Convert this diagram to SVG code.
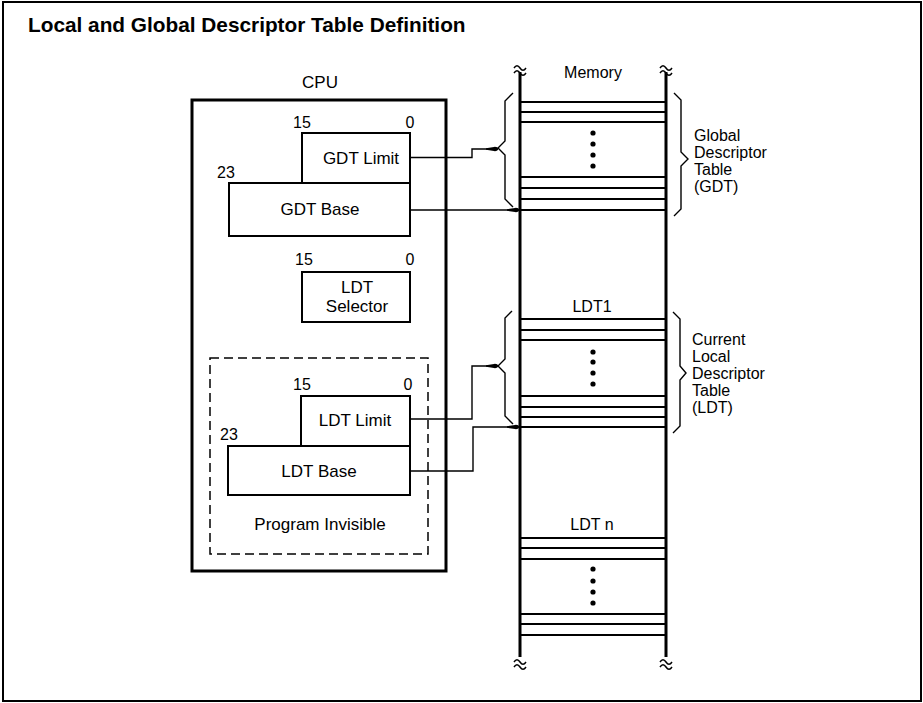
<svg xmlns="http://www.w3.org/2000/svg" width="923" height="703" viewBox="0 0 923 703">
<style>
  text { font-family: "Liberation Sans", Arial, sans-serif; fill: #000; }
  .title { font-size: 20.8px; font-weight: bold; }
  .lbl { font-size: 17px; }
  .num { font-size: 16px; }
  .mem { font-size: 16px; }
  .mid { text-anchor: middle; }
  .reg { fill: #fff; stroke: #000; stroke-width: 2; }
  .row { stroke: #000; stroke-width: 2; }
  .wire { fill: none; stroke: #000; stroke-width: 1.4; }
  .brace { fill: none; stroke: #000; stroke-width: 1.4; stroke-linejoin: miter; }
  .squig { fill: none; stroke: #000; stroke-width: 1.5; }
</style>
<defs>
  <marker id="ah" markerUnits="userSpaceOnUse" markerWidth="13" markerHeight="6" refX="12" refY="3" orient="auto" viewBox="0 0 13 6">
    <path d="M0,2.2 L8,0.9 Q12,0.6 12,3 Q12,5.4 8,5.1 L0,3.8 Z" fill="#000"/>
  </marker>
</defs>
<rect x="3" y="2" width="918" height="699" fill="#fff" stroke="#000" stroke-width="2"/>
<text class="title" x="28" y="32">Local and Global Descriptor Table Definition</text>

<g id="cpu">
  <text class="lbl mid" x="320" y="88">CPU</text>
  <rect x="192" y="100" width="254" height="471" fill="none" stroke="#000" stroke-width="3"/>
</g>

<g id="gdt-limit">
  <rect class="reg" x="302" y="133" width="108" height="50"/>
  <text class="num" x="293" y="128">15</text>
  <text class="num mid" x="410" y="128">0</text>
  <text class="lbl mid" x="361" y="164">GDT Limit</text>
</g>
<g id="gdt-base">
  <rect class="reg" x="229" y="183" width="181" height="53"/>
  <text class="num" x="217" y="178">23</text>
  <text class="lbl mid" x="320" y="215">GDT Base</text>
</g>
<g id="ldt-selector">
  <rect class="reg" x="302" y="272" width="108" height="50"/>
  <text class="num" x="295" y="265">15</text>
  <text class="num mid" x="410" y="265">0</text>
  <text class="lbl mid" x="357" y="293">LDT</text>
  <text class="lbl mid" x="357" y="312">Selector</text>
</g>
<g id="program-invisible">
  <rect x="210" y="358" width="218" height="196" fill="none" stroke="#000" stroke-width="1.5" stroke-dasharray="9,5"/>
  <text class="lbl mid" x="320" y="530">Program Invisible</text>
</g>
<g id="ldt-limit">
  <rect class="reg" x="301" y="396" width="109" height="50"/>
  <text class="num" x="293" y="390">15</text>
  <text class="num mid" x="408" y="390">0</text>
  <text class="lbl mid" x="355" y="426">LDT Limit</text>
</g>
<g id="ldt-base">
  <rect class="reg" x="228" y="446" width="182" height="49"/>
  <text class="num" x="220" y="440">23</text>
  <text class="lbl mid" x="319" y="477">LDT Base</text>
</g>

<g id="memory">
  <text class="mem mid" x="593" y="78">Memory</text>
  <line x1="520" y1="72" x2="520" y2="657" stroke="#000" stroke-width="3"/>
  <line x1="666" y1="72" x2="666" y2="657" stroke="#000" stroke-width="3"/>
  <path class="squig" d="M514,68 c2,-3 4,-3 6,0 s4,3 6,0 M514,73 c2,-3 4,-3 6,0 s4,3 6,0 M660,68 c2,-3 4,-3 6,0 s4,3 6,0 M660,73 c2,-3 4,-3 6,0 s4,3 6,0"/>
  <path class="squig" d="M514,662 c2,-3 4,-3 6,0 s4,3 6,0 M514,667 c2,-3 4,-3 6,0 s4,3 6,0 M660,662 c2,-3 4,-3 6,0 s4,3 6,0 M660,667 c2,-3 4,-3 6,0 s4,3 6,0"/>
</g>

<g id="gdt-table">
  <g class="row">
    <line x1="520" y1="102" x2="666" y2="102"/>
    <line x1="520" y1="112" x2="666" y2="112"/>
    <line x1="520" y1="122" x2="666" y2="122"/>
    <line x1="520" y1="177" x2="666" y2="177"/>
    <line x1="520" y1="188" x2="666" y2="188"/>
    <line x1="520" y1="199" x2="666" y2="199"/>
    <line x1="520" y1="210" x2="666" y2="210"/>
  </g>
  <circle cx="593" cy="133" r="2.6"/>
  <circle cx="593" cy="144" r="2.6"/>
  <circle cx="593" cy="155" r="2.6"/>
  <circle cx="593" cy="166" r="2.6"/>
  <path class="brace" d="M513,93 L505,101 V141 L498,148 L505,155 V199 L513,207"/>
  <path class="brace" d="M674,93 L681,100 V152 L688,159 L681,166 V209 L674,216"/>
  <text class="mem" x="694" y="141">Global</text>
  <text class="mem" x="694" y="158">Descriptor</text>
  <text class="mem" x="694" y="175">Table</text>
  <text class="mem" x="694" y="192">(GDT)</text>
</g>

<g id="ldt1-table">
  <text class="mem mid" x="592" y="312">LDT1</text>
  <g class="row">
    <line x1="520" y1="319" x2="666" y2="319"/>
    <line x1="520" y1="330" x2="666" y2="330"/>
    <line x1="520" y1="340" x2="666" y2="340"/>
    <line x1="520" y1="396" x2="666" y2="396"/>
    <line x1="520" y1="407" x2="666" y2="407"/>
    <line x1="520" y1="417" x2="666" y2="417"/>
    <line x1="520" y1="427" x2="666" y2="427"/>
  </g>
  <circle cx="593" cy="352" r="2.6"/>
  <circle cx="593" cy="362" r="2.6"/>
  <circle cx="593" cy="373" r="2.6"/>
  <circle cx="593" cy="384" r="2.6"/>
  <path class="brace" d="M512,311 L505,318 V359 L498,366 L505,373 V416 L513,424"/>
  <path class="brace" d="M673,312 L680,319 V366 L686,373 L680,380 V426 L673,433"/>
  <text class="mem" x="692" y="345">Current</text>
  <text class="mem" x="692" y="362">Local</text>
  <text class="mem" x="692" y="379">Descriptor</text>
  <text class="mem" x="692" y="396">Table</text>
  <text class="mem" x="692" y="413">(LDT)</text>
</g>

<g id="ldtn-table">
  <text class="mem mid" x="592" y="530">LDT n</text>
  <g class="row">
    <line x1="520" y1="538" x2="666" y2="538"/>
    <line x1="520" y1="548" x2="666" y2="548"/>
    <line x1="520" y1="559" x2="666" y2="559"/>
    <line x1="520" y1="614" x2="666" y2="614"/>
    <line x1="520" y1="624" x2="666" y2="624"/>
    <line x1="520" y1="635" x2="666" y2="635"/>
  </g>
  <circle cx="593" cy="569" r="2.6"/>
  <circle cx="593" cy="581" r="2.6"/>
  <circle cx="593" cy="592" r="2.6"/>
  <circle cx="593" cy="603" r="2.6"/>
</g>

<g id="connectors">
  <path class="wire" d="M410,157.5 H472 V149 H498" marker-end="url(#ah)"/>
  <path class="wire" d="M410,210 H519" marker-end="url(#ah)"/>
  <path class="wire" d="M410,419 H472 V366 H498" marker-end="url(#ah)"/>
  <path class="wire" d="M410,471 H473 V427 H519" marker-end="url(#ah)"/>
</g>
</svg>
